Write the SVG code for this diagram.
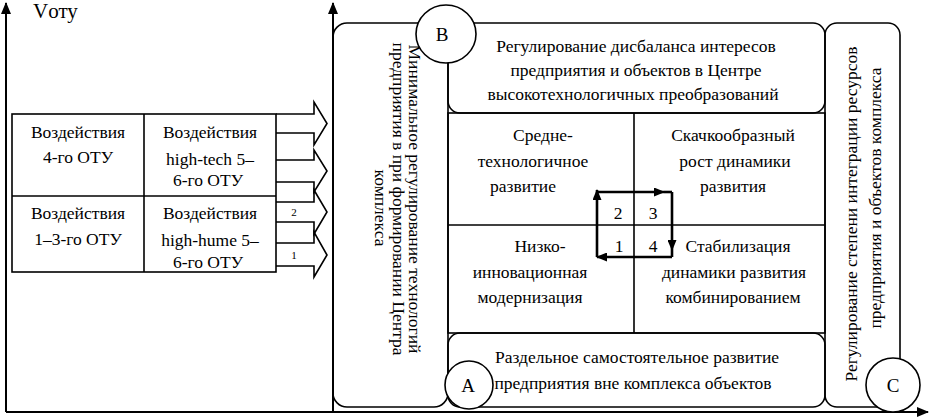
<svg xmlns="http://www.w3.org/2000/svg" width="930" height="420" viewBox="0 0 930 420">
<style>
.t{font-family:"Liberation Serif","Times New Roman",serif;font-size:17.5px;fill:#000;text-anchor:middle}
.s{font-family:"Liberation Serif","Times New Roman",serif;font-size:11px;fill:#000;text-anchor:middle}
.l{font-family:"Liberation Serif","Times New Roman",serif;font-size:19px;fill:#000;text-anchor:middle}
.ln{fill:none;stroke:#000;stroke-width:1.6}
.ax{fill:none;stroke:#000;stroke-width:2}
.thk{fill:none;stroke:#000;stroke-width:2.6}
.cir{fill:#fff;stroke:#000;stroke-width:1.6}
</style>
<defs>
<marker id="axh" markerWidth="12" markerHeight="10" refX="11" refY="5" orient="auto" markerUnits="userSpaceOnUse">
<path d="M0,0 L12,5 L0,10 Z" fill="#000"/>
</marker>
<marker id="sh" markerWidth="11" markerHeight="9" refX="10" refY="4.5" orient="auto" markerUnits="userSpaceOnUse">
<path d="M0,0 L11,4.5 L0,9 Z" fill="#000"/>
</marker>
</defs>
<rect width="930" height="420" fill="#fff"/>

<g id="axes">
<line class="ax" x1="6" y1="412" x2="6" y2="3" marker-end="url(#axh)"/>
<line class="ax" x1="333" y1="412" x2="333" y2="3" marker-end="url(#axh)"/>
<line class="ax" x1="6" y1="412" x2="928" y2="412" marker-end="url(#axh)"/>
<text class="l" x="33" y="18" style="font-size:21px;text-anchor:start">Vоту</text>
</g>

<g id="impact-table">
<rect class="ln" x="12" y="114" width="264" height="158"/>
<line class="ln" x1="144" y1="114" x2="144" y2="272"/>
<line class="ln" x1="12" y1="196" x2="276" y2="196"/>
<text class="t" x="78" y="138">Воздействия</text>
<text class="t" x="78" y="163">4-го ОТУ</text>
<text class="t" x="210" y="138">Воздействия</text>
<text class="t" x="210" y="165">high-tech 5–</text>
<text class="t" x="208" y="186">6-го ОТУ</text>
<text class="t" x="78" y="219">Воздействия</text>
<text class="t" x="78" y="245">1–3-го ОТУ</text>
<text class="t" x="210" y="219">Воздействия</text>
<text class="t" x="210" y="246">high-hume 5–</text>
<text class="t" x="208" y="268">6-го ОТУ</text>
</g>

<g id="connectors">
<path class="ln" d="M276,114 H314 V102 L327,123.5 L314,145 V133 H276"/>
<path class="ln" d="M276,160 H314 V150 L327,171 L314,192 V182 H276"/>
<path class="ln" d="M276,202 H314 V190 L327,212 L314,234 V222 H276"/>
<path class="ln" d="M276,243 H314 V232 L327,255 L314,277 V266 H276"/>
<text class="s" x="294" y="216">2</text>
<text class="s" x="294" y="259">1</text>
<line class="thk" x1="597" y1="257" x2="597" y2="190" marker-end="url(#sh)"/>
<line class="thk" x1="597" y1="192" x2="664" y2="192" marker-end="url(#sh)"/>
<line class="thk" x1="664" y1="192" x2="672" y2="192"/>
<line class="thk" x1="672" y1="192" x2="672" y2="250" marker-end="url(#sh)"/>
<line class="thk" x1="672" y1="250" x2="672" y2="257"/>
<line class="thk" x1="672" y1="257" x2="597" y2="257" marker-end="url(#sh)"/>
</g>

<g id="box-left">
<rect class="ln" x="333" y="23" width="115" height="384" rx="14"/>
<text class="t" transform="translate(409,199) rotate(90)">Минимальное регулирование технологий</text>
<text class="t" transform="translate(393,199) rotate(90)">предприятия в при формировании Центра</text>
<text class="t" transform="translate(375,208) rotate(90)">комплекса</text>
</g>

<g id="box-top">
<rect class="ln" x="448" y="23" width="377" height="90" rx="12"/>
<text class="t" x="636" y="52">Регулирование дисбаланса интересов</text>
<text class="t" x="636" y="76">предприятия и объектов в Центре</text>
<text class="t" x="633" y="100">высокотехнологичных преобразований</text>
</g>

<g id="matrix">
<rect class="ln" x="448" y="113" width="377" height="220"/>
<line class="ln" x1="634" y1="113" x2="634" y2="333"/>
<line class="ln" x1="448" y1="225" x2="825" y2="225"/>
<text class="t" x="543" y="141">Средне-</text>
<text class="t" x="533" y="167">технологичное</text>
<text class="t" x="523" y="192">развитие</text>
<text class="t" x="733" y="141">Скачкообразный</text>
<text class="t" x="735" y="167">рост динамики</text>
<text class="t" x="733" y="192">развития</text>
<text class="t" x="540" y="252">Низко-</text>
<text class="t" x="530" y="278">инновационная</text>
<text class="t" x="530" y="303">модернизация</text>
<text class="t" x="738" y="252">Стабилизация</text>
<text class="t" x="734" y="278">динамики развития</text>
<text class="t" x="733" y="303">комбинированием</text>
<text class="t" x="618" y="219">2</text>
<text class="t" x="653" y="219">3</text>
<text class="t" x="619" y="252">1</text>
<text class="t" x="653" y="252">4</text>
</g>

<g id="box-bottom">
<rect class="ln" x="448" y="333" width="377" height="74" rx="12"/>
<text class="t" x="637" y="363">Раздельное самостоятельное развитие</text>
<text class="t" x="633" y="389">предприятия вне комплекса объектов</text>
</g>

<g id="box-right">
<rect class="ln" x="825" y="23" width="75" height="384" rx="12"/>
<text class="t" transform="translate(857,214) rotate(-90)">Регулирование степени интеграции ресурсов</text>
<text class="t" transform="translate(881,198) rotate(-90)">предприятия и объектов комплекса</text>
</g>

<g id="node-B">
<ellipse class="cir" cx="446" cy="34" rx="30" ry="29"/>
<text class="l" x="442" y="41">B</text>
</g>
<g id="node-A">
<circle class="cir" cx="469" cy="385" r="24"/>
<text class="l" x="468" y="392">A</text>
</g>
<g id="node-C">
<circle class="cir" cx="893" cy="385" r="27"/>
<text class="l" x="893" y="392">C</text>
</g>
</svg>
